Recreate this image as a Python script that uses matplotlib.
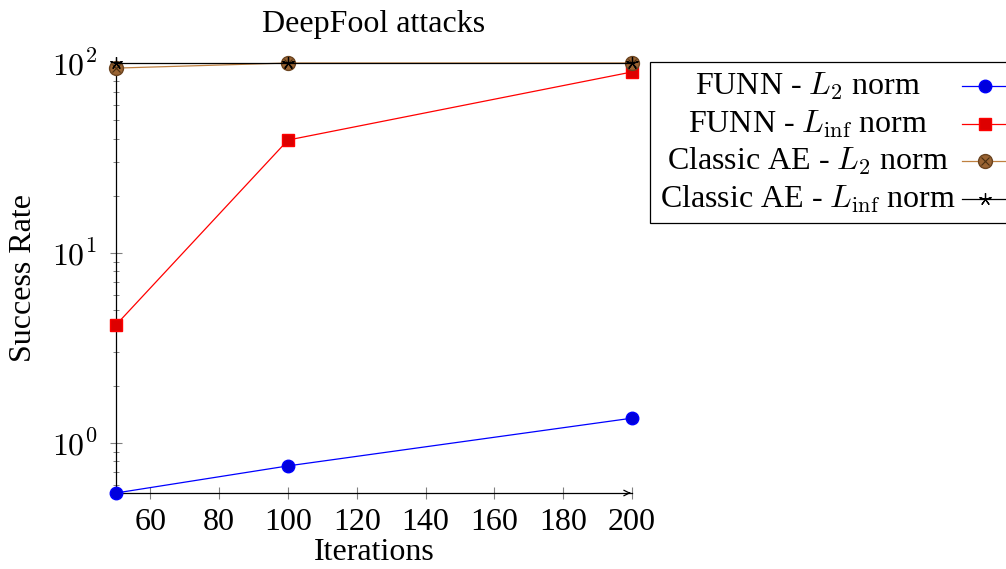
import matplotlib
matplotlib.use("Agg")
import matplotlib.pyplot as plt
from matplotlib.lines import Line2D
from matplotlib.patches import Rectangle
from matplotlib.ticker import LogLocator, FixedLocator
import numpy as np

plt.rcParams['font.family'] = ['Liberation Serif', 'DejaVu Serif']
plt.rcParams['mathtext.fontset'] = 'cm'

# dati
iterazioni = [50, 100, 200]
funn_l2 = [0.545, 0.757, 1.35]
funn_linf = [4.18, 39.3, 89.7]
classic_l2 = [94.0, 100.0, 100.0]
classic_linf = [100.0, 100.0, 100.0]
x_ticks = [60, 80, 100, 120, 140, 160, 180, 200]
etichette = [r'FUNN - $L_2$ norm', r'FUNN - $L_{\mathrm{inf}}$ norm',
             r'Classic AE - $L_2$ norm', r'Classic AE - $L_{\mathrm{inf}}$ norm']

W, H = 1006, 569
fig = plt.figure(figsize=(W / 100, H / 100), dpi=100)
ax = fig.add_axes([116 / W, 1 - 493 / H, (632 - 116) / W, (493 - 63) / H])

fs = 23
brown = '#BF8040'

# stili delle serie
stili = [
    dict(color='#0000FF', lw=0.9, marker='o', ms=9, mfc='#0000DD', mec='#0000FF'),
    dict(color='#FF0000', lw=0.9, marker='s', ms=9, mfc='#DD0000', mec='#FF0000'),
    dict(color=brown, lw=0.9, marker='o', ms=10, mfc='#9A6433', mec='#6B4420'),
    dict(color='black', lw=0.9, marker=(5, 2, 0), ms=9, mew=0.9),
]
croce = dict(ls='none', marker='x', ms=6, mew=0.8, color='#4A2E10')

serie = [funn_l2, funn_linf, classic_l2, classic_linf]
for i, (dati, st) in enumerate(zip(serie, stili)):
    ax.plot(iterazioni, dati, clip_on=False, zorder=3 + i, **st)
    if i == 2:
        ax.plot(iterazioni, dati, clip_on=False, zorder=3 + i, **croce)

ax.set_yscale('log')
ax.set_xlim(50, 200)
ax.set_ylim(0.545, 100)

ax.xaxis.set_major_locator(FixedLocator(x_ticks))
ax.yaxis.set_major_locator(FixedLocator([1, 10, 100]))
ax.set_yticklabels([r'$10^{0}$', r'$10^{1}$', r'$10^{2}$'])
ax.yaxis.set_minor_locator(LogLocator(base=10, subs=np.arange(2, 10)))
ax.yaxis.set_minor_formatter(plt.NullFormatter())

ax.tick_params(axis='both', which='major', direction='inout', length=9, width=0.8,
               color='#808080', labelsize=fs)
ax.tick_params(axis='y', which='minor', direction='inout', length=5, width=0.7,
               color='#808080')
ax.tick_params(axis='x', pad=6)
ax.tick_params(axis='y', pad=9)

ax.spines['top'].set_visible(False)
ax.spines['right'].set_visible(False)
ax.spines['left'].set_linewidth(0.9)
ax.spines['bottom'].set_linewidth(0.9)

# freccia asse x
ax.annotate('', xy=(1.003, 0), xytext=(0.99, 0), xycoords='axes fraction',
            arrowprops=dict(arrowstyle='->', color='black', lw=0.9))

ax.set_title('DeepFool attacks', fontsize=fs, pad=22)
ax.set_xlabel('Iterations', fontsize=fs, labelpad=1)
ax.set_ylabel('Success Rate', fontsize=fs, labelpad=10)

# legenda disegnata a mano (testo centrato, simbolo a destra)
fig.add_artist(Rectangle((650 / W, 1 - 223 / H), 400 / W, 161 / H, transform=fig.transFigure,
                         fill=True, facecolor='white', edgecolor='black', lw=0.9, zorder=10))
righe_y = [86, 124, 161, 199]
for yy, testo, st, i in zip(righe_y, etichette, stili, range(4)):
    fy = 1 - yy / H
    fig.text(808 / W, fy, testo, ha='center', va='center', fontsize=fs, zorder=11)
    st2 = dict(st)
    st2['markevery'] = [1]
    fig.add_artist(Line2D([962 / W, 985 / W, 1008 / W], [fy, fy, fy], transform=fig.transFigure,
                          zorder=11, **st2))
    if i == 2:
        fig.add_artist(Line2D([985 / W], [fy], transform=fig.transFigure, zorder=12, **croce))

fig.savefig('out.png', dpi=100)
